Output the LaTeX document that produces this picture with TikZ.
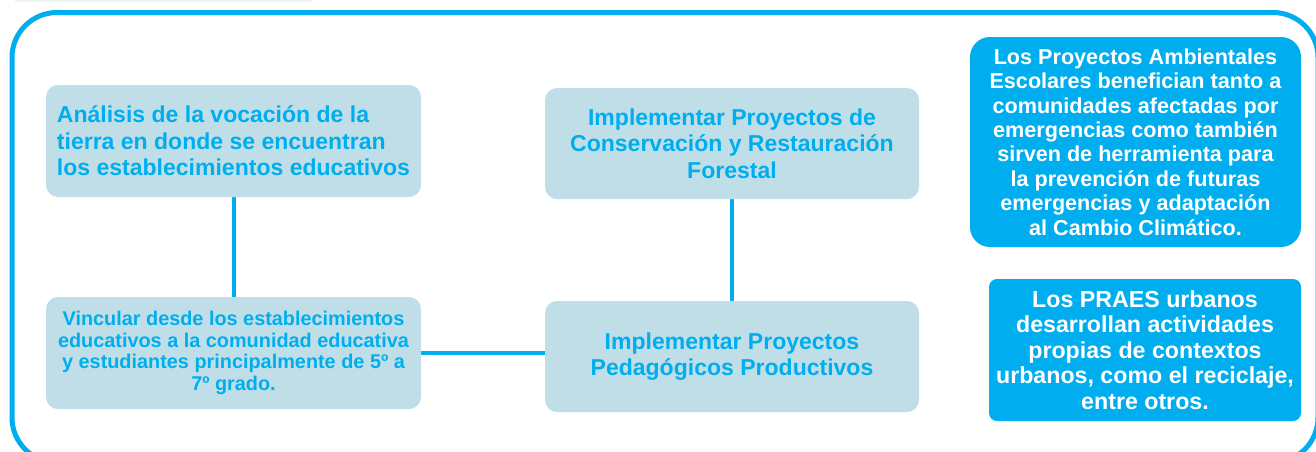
\documentclass[tikz,border=0pt]{standalone}
\usepackage{fontspec}
\setmainfont{Liberation Sans}
\usepackage{tikz}
\usetikzlibrary{positioning}
\pgfdeclarelayer{background}
\pgfdeclarelayer{foreground}
\pgfsetlayers{background,main,foreground}
\definecolor{cyanline}{RGB}{0,174,239}
\definecolor{softfill}{RGB}{192,222,231}
\definecolor{faintfill}{RGB}{232,244,250}

\begin{document}
\begin{tikzpicture}[
	softbox/.style={rectangle, rounded corners=0.24cm, fill=softfill, text=cyanline, font=\bfseries, inner sep=0.2cm},
	darkbox/.style={rectangle, fill=cyanline, text=white, font=\bfseries, inner sep=0.1cm, align=center},
	link/.style={draw=cyanline, line width=0.08cm},
	]
	\useasboundingbox (0,0) rectangle (26.32,-9.02);
	%Frame
	\fill[faintfill] (0.3,0) rectangle (6.24,-0.04);
	\draw[cyanline, line width=0.1cm, rounded corners=0.9cm] (0.24,-0.25) rectangle (26.36,-9.25);
	%Nodes
	\node[softbox, minimum width=7.5cm, minimum height=2.24cm, align=left,
		font=\bfseries\fontsize{13.1}{15.1}\selectfont]      (analisis) 	at 	(4.67,-2.82)
		{Análisis de la vocación de la\\ tierra en donde se encuentran\\ los establecimientos educativos};
	\node[softbox, minimum width=7.48cm, minimum height=2.22cm, align=center,
		font=\bfseries\fontsize{13.1}{15.1}\selectfont]      (forestal) 	at 	(14.64,-2.87)
		{Implementar Proyectos de\\ Conservación y Restauración\\ Forestal};
	\node[softbox, minimum width=7.5cm, minimum height=2.24cm, align=center,
		font=\bfseries\fontsize{11.3}{12.4}\selectfont]      (vincular) 	at 	(4.67,-7.06)
		{Vincular desde los establecimientos\\ educativos a la comunidad educativa\\ y estudiantes principalmente de 5º a\\ 7º grado.};
	\node[softbox, minimum width=7.48cm, minimum height=2.22cm, align=center,
		font=\bfseries\fontsize{13.1}{15.1}\selectfont]      (productivos) 	at 	(14.64,-7.13)
		{Implementar Proyectos\\ Pedagógicos Productivos};
	\node[darkbox, rounded corners=0.4cm, minimum width=6.62cm, minimum height=4.2cm,
		font=\bfseries\fontsize{12.3}{13.9}\selectfont]      (beneficio) 	at 	(22.71,-2.84)
		{Los Proyectos Ambientales\\ Escolares benefician tanto a\\ comunidades afectadas por\\ emergencias como también\\ sirven de herramienta para\\ la prevención de futuras\\ emergencias y adaptación\\ al Cambio Climático.};
	\node[darkbox, rounded corners=0.16cm, minimum width=6.24cm, minimum height=2.84cm,
		font=\bfseries\fontsize{13.2}{14.5}\selectfont]      (urbanos) 	at 	(22.9,-7.0)
		{Los PRAES urbanos\\ desarrollan actividades\\ propias de contextos\\ urbanos, como el reciclaje,\\ entre otros.};

	\begin{pgfonlayer}{background}
	%Lines
	\draw[link] (analisis.south) -- (vincular.north);
	\draw[link] (forestal.south) -- (productivos.north);
	\draw[link] (vincular.east) -- (vincular.east -| productivos.west);
	\end{pgfonlayer}
\end{tikzpicture}
\end{document}
